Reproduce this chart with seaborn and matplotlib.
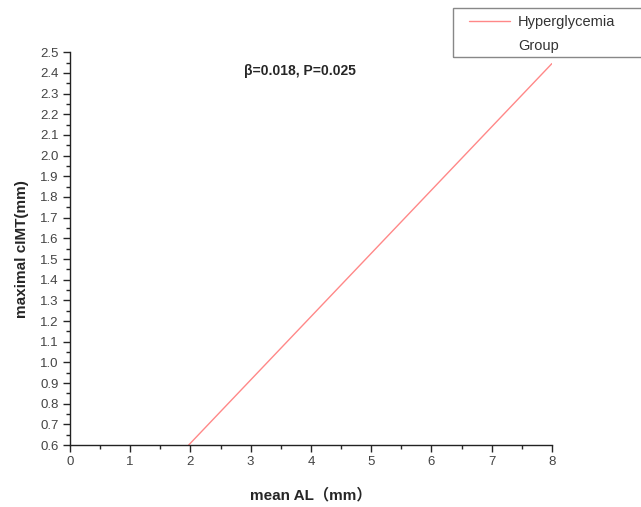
import pandas as pd
import matplotlib.pyplot as plt
import seaborn as sns
from matplotlib.ticker import MultipleLocator
from matplotlib.patches import Rectangle

# fitted line for the hyperglycemia group
mean_al = [1.97, 8.0]
max_cimt = [0.6, 2.445]
group = 'Hyperglycemia'
group2 = 'Group'
annot = 'β=0.018, P=0.025'

sns.set_style('ticks')
plt.rcParams['font.family'] = ['Liberation Sans', 'Noto Sans CJK SC', 'DejaVu Sans']

dados = pd.DataFrame({'mean_al': mean_al, 'max_cimt': max_cimt, 'grupo': [group] * len(mean_al)})

W, H = 641, 507
fig = plt.figure(figsize=(W / 100, H / 100), dpi=100)
ax = fig.add_axes([0.109, 0.122, 0.752, 0.775])
sns.lineplot(data=dados, x='mean_al', y='max_cimt', hue='grupo',
             palette=['#ff8888'], linewidth=1, ax=ax, legend=True)

ax.set_xlim(0, 8)
ax.set_ylim(0.6, 2.5)
ax.xaxis.set_major_locator(MultipleLocator(1))
ax.xaxis.set_minor_locator(MultipleLocator(0.5))
ax.yaxis.set_major_locator(MultipleLocator(0.1))
ax.yaxis.set_minor_locator(MultipleLocator(0.05))
ax.tick_params(which='major', length=5, width=1, labelsize=9.5, labelcolor='#444444', pad=3)
ax.tick_params(which='minor', length=3, width=1)
ax.set_yticks(ax.get_yticks())
ax.set_yticklabels([f'{v:.1f}' for v in ax.get_yticks()])
ax.set_ylim(0.6, 2.5)
sns.despine(ax=ax)
for s in ['left', 'bottom']:
    ax.spines[s].set_linewidth(1)
    ax.spines[s].set_color('#222222')

ax.set_xlabel('mean AL（mm）', fontsize=11, fontweight='bold', labelpad=14)
ax.set_ylabel('maximal cIMT(mm)', fontsize=11, fontweight='bold', labelpad=8)
ax.text(3.82, 2.41, annot, fontsize=10, fontweight='bold', ha='center', va='center')

# legend: handle + first line, second line as text, frame running off the right edge
leg = ax.legend(loc='center left', bbox_to_anchor=(462 / W, 1 - 22 / H),
                bbox_transform=fig.transFigure, frameon=False,
                fontsize=10.5, handlelength=2.8, handletextpad=0.5, borderpad=0)
for t in leg.get_texts():
    t.set_color('#333333')
fig.text(518 / W, 1 - 46 / H, group2, fontsize=10.5, color='#333333', ha='left', va='center')
fig.add_artist(Rectangle((453 / W, 1 - 57 / H), 220 / W, 49 / H, transform=fig.transFigure,
                         facecolor='none', edgecolor='#888888', linewidth=1, clip_on=False))

fig.savefig('out.png', dpi=100)
